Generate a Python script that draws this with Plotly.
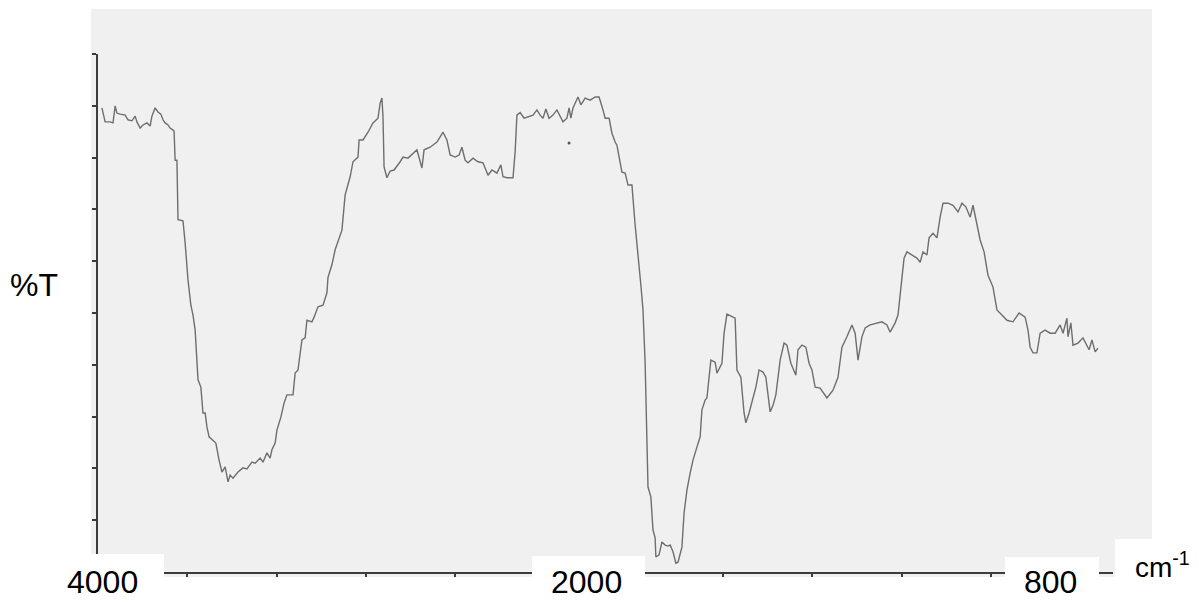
import plotly.graph_objects as go

# ---- data: wavenumber (cm-1) and %T ----
wavenumber = [
    3989, 3980, 3966, 3958, 3952, 3947, 3938, 3924, 3916, 3905, 3896, 3891, 3882, 3874, 3863, 3854,
    3849, 3840, 3832, 3824, 3818, 3812, 3804, 3798, 3790, 3787, 3784, 3779, 3776, 3762, 3756, 3748,
    3740, 3734, 3728, 3723, 3720, 3712, 3706, 3700, 3695, 3689, 3678, 3670, 3661, 3653, 3644, 3636,
    3630, 3622, 3608, 3594, 3583, 3569, 3560, 3546, 3538, 3527, 3518, 3513, 3504, 3499, 3488, 3479,
    3471, 3454, 3448, 3440, 3429, 3420, 3415, 3401, 3395, 3384, 3370, 3359, 3356, 3345, 3336, 3317,
    3308, 3294, 3286, 3272, 3269, 3258, 3244, 3230, 3216, 3210, 3205, 3202, 3199, 3191, 3182, 3171,
    3154, 3146, 3132, 3118, 3107, 3093, 3087, 3070, 3051, 3042, 3034, 3023, 3014, 3000, 2989, 2981,
    2972, 2964, 2950, 2936, 2922, 2908, 2897, 2883, 2872, 2866, 2855, 2838, 2832, 2827, 2818, 2807,
    2796, 2782, 2771, 2762, 2754, 2746, 2737, 2726, 2715, 2706, 2698, 2687, 2681, 2676, 2670, 2656,
    2648, 2636, 2622, 2608, 2597, 2586, 2580, 2569, 2561, 2552, 2547, 2533, 2524, 2516, 2505, 2496,
    2488, 2480, 2474, 2468, 2460, 2452, 2446, 2440, 2438, 2429, 2421, 2412, 2404, 2398, 2390, 2382,
    2376, 2365, 2359, 2351, 2342, 2334, 2323, 2314, 2309, 2300, 2295, 2284, 2272, 2267, 2253, 2247,
    2239, 2225, 2216, 2211, 2200, 2191, 2186, 2177, 2166, 2158, 2149, 2138, 2130, 2118, 2110, 2102,
    2090, 2079, 2071, 2060, 2046, 2040, 2029, 2018, 2009, 2001, 1992, 1978, 1959, 1942, 1928, 1917,
    1903, 1889, 1880, 1872, 1861, 1852, 1838, 1819, 1805, 1791, 1782, 1768, 1760, 1752, 1743, 1735,
    1721, 1707, 1698, 1690, 1679, 1673, 1662, 1651, 1642, 1634, 1620, 1606, 1592, 1581, 1570, 1558,
    1550, 1539, 1530, 1519, 1508, 1494, 1483, 1469, 1455, 1438, 1421, 1404, 1396, 1390, 1382, 1371,
    1362, 1348, 1334, 1320, 1306, 1298, 1287, 1284, 1276, 1270, 1256, 1242, 1231, 1225, 1217, 1208,
    1200,
]
transmittance = [
    89.6, 86.9, 86.9, 86.7, 90.0, 88.6, 88.4, 88.2, 87.3, 87.1, 88.0, 86.9, 85.7, 86.3, 86.7, 86.1,
    88.0, 89.6, 88.8, 88.4, 87.3, 86.7, 86.3, 85.7, 85.3, 85.1, 79.5, 79.5, 68.0, 67.8, 63.5, 56.4,
    51.5, 49.6, 46.7, 40.3, 37.1, 35.7, 30.7, 30.7, 28.0, 26.1, 25.5, 24.9, 21.6, 19.3, 20.3, 17.4,
    18.7, 18.1, 19.3, 20.1, 19.9, 21.2, 21.0, 22.0, 21.2, 23.0, 22.0, 23.6, 24.9, 27.4, 29.9, 32.6,
    34.2, 34.2, 38.4, 39.0, 44.8, 45.2, 48.6, 48.3, 49.2, 51.2, 51.5, 53.9, 56.9, 59.3, 62.2, 66.0,
    72.8, 76.3, 79.2, 80.1, 83.4, 83.4, 84.9, 86.7, 87.6, 90.5, 91.5, 87.8, 78.2, 76.1, 77.4, 77.6,
    79.2, 80.1, 79.9, 80.9, 81.5, 78.0, 81.5, 82.0, 83.0, 84.0, 84.9, 83.4, 80.5, 80.1, 80.5, 82.0,
    79.5, 79.0, 79.9, 79.2, 79.0, 76.6, 77.6, 77.0, 78.6, 76.3, 76.1, 76.1, 81.1, 88.2, 88.7, 87.6,
    87.8, 88.2, 89.2, 88.2, 87.6, 89.4, 87.6, 88.2, 89.2, 87.8, 86.9, 87.6, 89.6, 87.6, 89.6, 91.7,
    90.2, 91.5, 91.1, 91.7, 91.7, 89.2, 87.6, 87.6, 84.7, 83.0, 82.4, 77.2, 77.0, 74.7, 74.7, 67.0,
    61.8, 55.4, 50.6, 40.3, 16.4, 14.5, 8.1, 6.6, 2.9, 3.3, 5.8, 5.2, 5.0, 5.2, 3.9, 1.7,
    1.9, 4.8, 11.4, 15.8, 19.1, 21.6, 24.1, 26.1, 31.3, 33.2, 33.6, 40.9, 40.5, 38.4, 40.3, 46.1,
    49.8, 49.4, 49.0, 39.0, 37.6, 30.7, 28.8, 30.7, 33.8, 35.7, 39.0, 38.6, 37.6, 30.9, 32.2, 34.2,
    40.9, 44.2, 43.8, 40.3, 38.0, 42.9, 43.8, 43.4, 40.3, 39.0, 35.7, 35.5, 33.6, 35.1, 37.6, 43.4,
    45.4, 47.7, 46.1, 40.9, 45.4, 47.1, 47.7, 48.1, 48.3, 47.7, 46.3, 48.1, 49.6, 54.8, 60.6, 61.8,
    61.2, 60.6, 59.8, 61.8, 61.2, 64.5, 65.4, 64.5, 68.5, 71.2, 71.2, 70.8, 69.5, 71.2, 70.5, 68.5,
    70.8, 67.4, 64.1, 61.8, 57.3, 55.0, 50.6, 49.6, 48.6, 48.3, 50.0, 49.2, 46.7, 43.4, 42.3, 42.3,
    46.1, 46.7, 46.1, 46.1, 47.7, 46.1, 49.0, 45.4, 48.1, 43.8, 44.2, 45.2, 43.8, 42.9, 44.8, 42.5,
    43.2,
]
speck_wavenumber = [2681]
speck_transmittance = [82.8]

x_labels = ["4000", "2000", "800"]
y_title = "%T"
x_unit = "cm<sup>-1</sup>"

# ---- layout geometry (pixels) ----
W, H = 1199, 602
L, R, T, B = 98, 86, 54, 30
PW, PH = W - L - R, H - T - B


def X(px):
    return (px - L) / PW


def Y(py):
    return (H - B - py) / PH


fig = go.Figure()
fig.add_trace(go.Scatter(
    x=wavenumber, y=transmittance, mode="lines",
    line=dict(color="#6e6e6e", width=1.4), hoverinfo="skip", showlegend=False,
))
fig.add_trace(go.Scatter(
    x=speck_wavenumber, y=speck_transmittance, mode="markers",
    marker=dict(color="#555555", size=3), hoverinfo="skip", showlegend=False,
))

shapes = [
    # grey panel behind the spectrum
    dict(type="rect", xref="paper", yref="paper", x0=X(91), x1=X(1152), y0=Y(577), y1=Y(9),
         fillcolor="#f0f0f0", line=dict(width=0), layer="below"),
]
# white label boxes covering the axis
for x0, x1, y0 in [(0, 164, 554), (532, 645, 556), (1005, 1099, 557), (1115, 1199, 539)]:
    shapes.append(dict(type="rect", xref="paper", yref="paper", x0=X(x0), x1=X(x1),
                       y0=Y(602), y1=Y(y0), fillcolor="white", line=dict(width=0), layer="above"))

font = dict(family="Liberation Sans, Arial, sans-serif", size=32, color="black")
annotations = []
for lab, cx in zip(x_labels, [102, 586, 1050]):
    annotations.append(dict(text=lab, xref="paper", yref="paper", x=X(cx), y=Y(582),
                            xanchor="center", yanchor="middle", showarrow=False, font=font))
annotations.append(dict(text=y_title, xref="paper", yref="paper", x=X(34), y=Y(285),
                        xanchor="center", yanchor="middle", showarrow=False, font=font))
annotations.append(dict(text=x_unit, xref="paper", yref="paper", x=X(1133), y=Y(565),
                        xanchor="left", yanchor="middle", showarrow=False,
                        font=dict(family="Liberation Sans, Arial, sans-serif", size=28, color="black")))

axis_common = dict(showline=True, linecolor="#3c3c3c", linewidth=2, ticks="outside",
                   tickcolor="#3c3c3c", tickwidth=2, showticklabels=False,
                   showgrid=False, zeroline=False, fixedrange=True)

fig.update_layout(
    width=W, height=H,
    margin=dict(l=L, r=R, t=T, b=B),
    paper_bgcolor="white", plot_bgcolor="rgba(0,0,0,0)",
    xaxis=dict(range=[4000, 1158], tick0=4000, dtick=250, ticklen=3, **axis_common),
    yaxis=dict(range=[0, 100], tick0=0, dtick=10, ticklen=4, **axis_common),
    shapes=shapes, annotations=annotations, showlegend=False,
)

fig.write_html("out.html", config={"displayModeBar": False},
               post_script="document.body.style.margin='0';document.body.style.overflow='hidden';")
